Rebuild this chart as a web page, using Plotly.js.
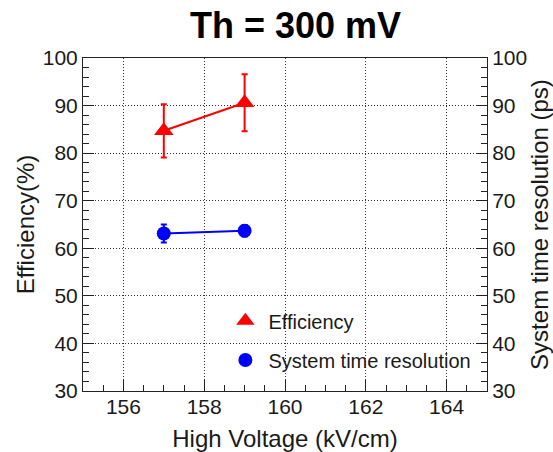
<!DOCTYPE html>
<html><head><meta charset="utf-8">
<script src="https://cdn.plot.ly/plotly-3.0.1.min.js"></script>
<style>html,body{margin:0;padding:0;background:#fff;}#c{width:553px;height:452px;}</style>
</head><body><div id="c"></div>
<script>
const hv = [157, 159];
const efficiency = [84.7, 90.6];
const efficiencyErr = [5.6, 6.0];
const timeRes = [63.1, 63.7];
const timeResErr = [1.9, 1.2];
const yTicks = [30, 40, 50, 60, 70, 80, 90, 100];
const xTicks = [156, 158, 160, 162, 164];

const txt = '#1a1a1a';
const fam = 'Liberation Sans, Arial, sans-serif';

const traces = [
  {x: hv, y: efficiency, type: 'scatter', mode: 'lines+markers', showlegend: false,
   line: {color: '#ff0000', width: 2},
   marker: {symbol: 'triangle-up', size: 17, color: '#ff0000'},
   error_y: {type: 'data', array: efficiencyErr, visible: true, color: '#ff0000', thickness: 2, width: 3}},
  {x: hv, y: timeRes, type: 'scatter', mode: 'lines+markers', showlegend: false, yaxis: 'y2',
   line: {color: '#0000ff', width: 2},
   marker: {symbol: 'circle', size: 14, color: '#0000ff'},
   error_y: {type: 'data', array: timeResErr, visible: true, color: '#0000ff', thickness: 2, width: 3}},
  {x: [null], y: [null], type: 'scatter', mode: 'markers', name: 'Efficiency', legend: 'legend',
   marker: {symbol: 'triangle-up', size: 17, color: '#ff0000'}},
  {x: [null], y: [null], type: 'scatter', mode: 'markers', name: 'System time resolution', legend: 'legend2',
   marker: {symbol: 'circle', size: 14, color: '#0000ff'}}
];

const axCommon = {
  showline: true, linecolor: '#222', linewidth: 1,
  ticks: 'inside', ticklen: 11, tickcolor: '#222', tickwidth: 1,
  showgrid: true, gridcolor: '#333', griddash: '1px,2px', gridwidth: 1,
  zeroline: false,
  tickfont: {family: fam, size: 21, color: txt}
};

const layout = {
  width: 553, height: 452,
  margin: {l: 83, r: 66, t: 58, b: 61},
  paper_bgcolor: '#fff', plot_bgcolor: '#fff',
  font: {family: fam, color: txt},
  title: {text: '<b>Th = 300 mV</b>', font: {family: fam, size: 36, color: '#000'},
          x: 291 / 553, xanchor: 'center', xref: 'paper', y: 1 - 38 / 452, yanchor: 'bottom', yref: 'container'},
  xaxis: Object.assign({}, axCommon, {
    range: [155, 165], tickvals: xTicks, mirror: true, ticklabelstandoff: -3,
    minor: {dtick: 0.5, ticks: 'inside', ticklen: 6, tickcolor: '#222', showgrid: false},
    title: {text: 'High Voltage (kV/cm)', font: {family: fam, size: 24, color: txt}, standoff: 12}
  }),
  yaxis: Object.assign({}, axCommon, {
    range: [30, 100], tickvals: yTicks,
    minor: {dtick: 2, ticks: 'inside', ticklen: 6, tickcolor: '#222', showgrid: false},
    title: {text: 'Efficiency(%)', font: {family: fam, size: 24, color: txt}, standoff: 1}
  }),
  yaxis2: Object.assign({}, axCommon, {
    range: [30, 100], tickvals: yTicks, overlaying: 'y', side: 'right', showgrid: false,
    minor: {dtick: 2, ticks: 'inside', ticklen: 6, tickcolor: '#222', showgrid: false},
    title: {text: 'System time resolution (ps)', font: {family: fam, size: 24, color: txt}, standoff: 12}
  }),
  legend: {x: 0.345, y: 0.211, xanchor: 'left', yanchor: 'middle', bgcolor: 'rgba(0,0,0,0)', itemwidth: 36,
           font: {family: fam, size: 20, color: txt}},
  legend2: {x: 0.345, y: 0.093, xanchor: 'left', yanchor: 'middle', bgcolor: 'rgba(0,0,0,0)', itemwidth: 36,
           font: {family: fam, size: 20, color: txt}}
};

Plotly.newPlot('c', traces, layout, {displayModeBar: false, staticPlot: true});
</script></body></html>
